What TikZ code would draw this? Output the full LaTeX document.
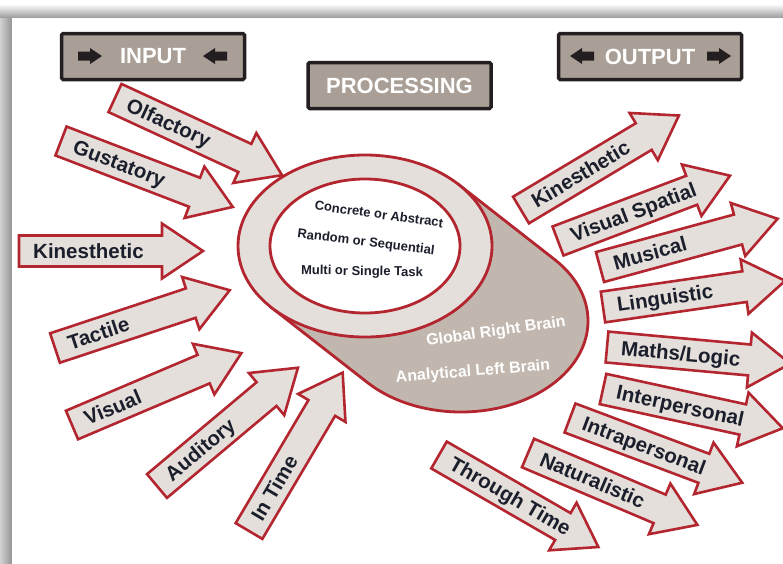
\documentclass[tikz,border=0pt]{standalone}
\usepackage{fontspec}
\setmainfont{Liberation Sans}
\usetikzlibrary{calc,shapes.geometric}

\definecolor{rimred}{HTML}{B3262F}
\definecolor{shaftfill}{HTML}{E4DFDB}
\definecolor{bodyfill}{HTML}{C1B7AE}
\definecolor{headfill}{HTML}{A99F96}
\definecolor{headline}{HTML}{231F20}
\definecolor{inkblue}{HTML}{1B1E2B}

\tikzset{
  arrowbody/.style={draw=rimred, fill=shaftfill, line width=2.6pt, line join=miter},
  arrowlabel/.style={anchor=base west, inner sep=0pt, text=inkblue,
    font=\fontsize{20.5}{24}\selectfont\bfseries},
  hdrbox/.style={draw=headline, fill=headfill, line width=3.5pt, rounded corners=1.5pt,
    minimum width=183pt, minimum height=46pt, inner sep=0pt, text=white,
    font=\fontsize{22}{26}\selectfont\bfseries},
  hdrtip/.style={fill=headline},
  rimline/.style={draw=rimred, line width=2.8pt},
  innertext/.style={inner sep=0pt, text=inkblue, font=\fontsize{13}{15}\selectfont\bfseries},
  braintext/.style={inner sep=0pt, text=white, font=\fontsize{16}{18}\selectfont\bfseries},
}

% block arrow with its label near the tail: name, tail x, tail y, angle, label
\newcommand\flowarrow[5]{%
  \begin{scope}[shift={(#2,#3)},rotate=#4]
    \draw[arrowbody] (0,-15.5) -- (143,-15.5) -- (143,-27.5) -- (184,0)
      -- (143,27.5) -- (143,15.5) -- (0,15.5) -- cycle;
    \node[arrowlabel,rotate=#4] (#1) at (14,7) {#5};
  \end{scope}}

% small black arrow in a header box: start x, centre y, direction (1 or -1)
\newcommand\hdrarrow[3]{%
  \begin{scope}[shift={(#1,#2)},xscale=#3]
    \fill[hdrtip] (0,-4.5) -- (12,-4.5) -- (12,-8) -- (24,0) -- (12,8) -- (12,4.5) -- (0,4.5) -- cycle;
  \end{scope}}

\begin{document}
\begin{tikzpicture}[x=1pt,y=-1pt]
  \useasboundingbox (0,0) rectangle (783,563);

  % page with its drop shadow
  \fill[white] (0,0) rectangle (783,563);
  \shade[top color=white, bottom color=black!40] (0,4) rectangle (783,18);
  \shade[left color=black!18, right color=black!42] (0,18) rectangle (12,563);
  \fill[white] (12,18) rectangle (783,563);

  % headers
  \node[hdrbox] (input) at (153,56.5) {INPUT};
  \hdrarrow{78}{56}{1}
  \hdrarrow{227}{56}{-1}
  \node[hdrbox] (processing) at (399.5,85.5) {PROCESSING};
  \node[hdrbox] (output) at (650,56.5) {OUTPUT};
  \hdrarrow{594}{56}{-1}
  \hdrarrow{707}{56}{1}

  % processing cylinder: ring on top, body trailing to the lower right
  \coordinate (ringc) at (365,246);
  \coordinate (endc) at (461,321);
  \filldraw[rimline, fill=bodyfill]
    ($(ringc)+(42.5:127pt and 91pt)$) -- ($(endc)+(42.5:127pt and 91pt)$)
    arc[start angle=42.5, end angle=-137.5, x radius=127pt, y radius=91pt]
    -- ($(ringc)+(222.5:127pt and 91pt)$) -- cycle;
  \node[ellipse, rimline, fill=shaftfill, minimum width=254pt, minimum height=182pt,
    inner sep=0pt] (ring) at (ringc) {};
  \node[ellipse, rimline, fill=white, minimum width=190pt, minimum height=134pt,
    inner sep=0pt] (core) at (ringc) {};

  \node[innertext, rotate=-8] (concrete) at (379,214) {Concrete or Abstract};
  \node[innertext, rotate=-7] (random) at (366,243) {Random or Sequential};
  \node[innertext, rotate=-1] (multi) at (362,272) {Multi or Single Task};
  \node[braintext, rotate=8] (global) at (496,332) {Global Right Brain};
  \node[braintext, rotate=4.6] (analytic) at (473,372) {Analytical Left Brain};

  % input senses
  \flowarrow{olfactory}{115}{98}{-24.8}{Olfactory}
  \flowarrow{gustatory}{61}{141}{-21}{Gustatory}
  \flowarrow{kinin}{19}{251}{0}{Kinesthetic}
  \flowarrow{tactile}{55}{348}{18.3}{Tactile}
  \flowarrow{visual}{72}{425}{23}{Visual}
  \flowarrow{auditory}{157}{486}{40}{Auditory}
  \flowarrow{intime}{249}{531}{59.4}{In Time}

  % output intelligences
  \flowarrow{kinout}{521}{210}{30.9}{Kinesthetic}
  \flowarrow{spatial}{558}{241}{20.8}{Visual Spatial}
  \flowarrow{musical}{600}{267}{15.2}{Musical}
  \flowarrow{linguistic}{603}{307}{8.2}{Linguistic}
  \flowarrow{maths}{607}{347}{-5.2}{Maths/Logic}
  \flowarrow{inter}{603}{389}{-12.3}{Interpersonal}
  \flowarrow{intra}{570}{418}{-20.6}{Intrapersonal}
  \flowarrow{natural}{528}{453}{-23}{Naturalistic}
  \flowarrow{through}{439}{455}{-30}{Through Time}
\end{tikzpicture}
\end{document}
